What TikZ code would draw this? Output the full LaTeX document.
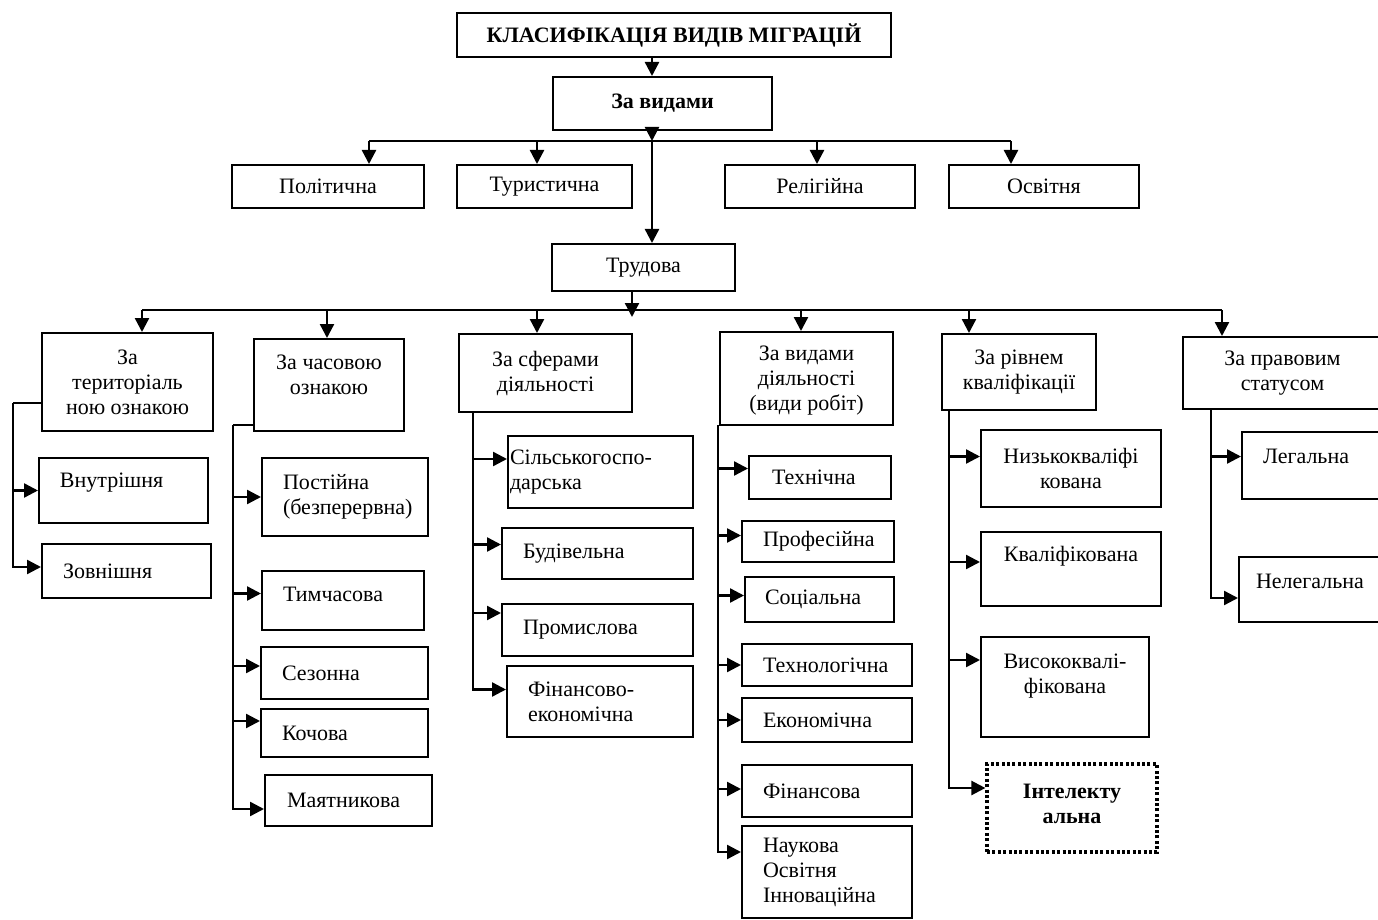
\documentclass[tikz,border=0pt]{standalone}
\usepackage{fontspec}
\setmainfont{Liberation Serif}
\usetikzlibrary{arrows.meta}
\tikzset{
  >={Triangle[length=7pt,width=7pt]},
  box/.style={draw, line width=1pt, inner sep=0pt, align=center,
    font=\fontsize{11}{12.5}\selectfont},
  bbox/.style={box, font=\fontsize{11}{12.5}\selectfont\bfseries},
  dotbox/.style={bbox, line width=1.6pt, dash pattern=on 1.5pt off 1.2pt},
  spot/.style args={#1,#2,#3,#4}{at={({(#1+#3)/2},{(#2+#4)/2})},
    minimum width={(#3-#1)*0.5pt}, minimum height={(#4-#2)*0.5pt}},
  lft/.style={align=left, text width=#1},
  liftby/.style={text depth=#1},
  conn/.style={line width=1.2pt},
}

\begin{document}
\begin{tikzpicture}[x=0.5pt, y=-0.5pt]
  \useasboundingbox (0,0) rectangle (1378,920);

  % top
  \node[bbox, spot={457,13,891,57}] (title) {КЛАСИФІКАЦІЯ ВИДІВ МІГРАЦІЙ};
  \node[bbox, spot={553,77,772,130}] (vydy) {За видами};
  \node[box, spot={232,165,424,208}] (pol) {Політична};
  \node[box, spot={457,165,632,208}] (tur) {Туристична};
  \node[box, spot={725,165,915,208}] (rel) {Релігійна};
  \node[box, spot={949,165,1139,208}] (osv) {Освітня};
  \node[box, spot={552,244,735,291}] (trud) {Трудова};

  % criteria
  \node[box, spot={42,333,213,431}] (ter) {За\\територіаль\\ною ознакою};
  \node[box, liftby=10pt, spot={254,339,404,431}] (chas) {За часовою\\ознакою};
  \node[box, spot={459,334,632,412}] (sfer) {За сферами\\діяльності};
  \node[box, liftby=0pt, spot={720,332,893,425}] (vyd) {За видами\\діяльності\\(види робіт)};
  \node[box, spot={942,334,1096,410}] (riv) {За рівнем\\кваліфікації};
  \node[box, spot={1183,337,1382,409}] (prav) {За правовим\\статусом};

  % territorial, time
  \node[box, lft=63.5pt, liftby=10pt, spot={39,458,208,523}] (vnu) {Внутрішня};
  \node[box, lft=63.5pt, spot={42,544,211,598}] (zov) {Зовнішня};
  \node[box, lft=62pt, spot={262,458,428,536}] (post) {Постійна\\(безперервна)};
  \node[box, lft=60pt, liftby=6pt, spot={262,571,424,630}] (tymch) {Тимчасова};
  \node[box, lft=62.5pt, spot={261,647,428,699}] (sez) {Сезонна};
  \node[box, lft=62.5pt, spot={261,709,428,757}] (koch) {Кочова};
  \node[box, lft=61.5pt, spot={265,775,432,826}] (maya) {Маятникова};

  % spheres
  \node[box, lft=90.5pt, spot={508,436,693,508}] (silg) {Сільськогоспо-\\дарська};
  \node[box, lft=74.5pt, spot={502,528,693,579}] (bud) {Будівельна};
  \node[box, lft=74.5pt, spot={502,604,693,656}] (prom) {Промислова};
  \node[box, lft=72pt, spot={507,666,693,737}] (fin) {Фінансово-\\економічна};

  % kinds of work
  \node[box, lft=48pt, spot={749,456,891,499}] (tekh) {Технічна};
  \node[box, lft=55pt, spot={742,521,894,562}] (prof) {Професійна};
  \node[box, lft=54.5pt, spot={745,577,894,622}] (soc) {Соціальна};
  \node[box, lft=64pt, spot={742,644,912,686}] (tekhn) {Технологічна};
  \node[box, lft=64pt, spot={742,698,912,742}] (ekon) {Економічна};
  \node[box, lft=64pt, spot={742,765,912,817}] (finn) {Фінансова};
  \node[box, lft=64pt, spot={742,826,912,918}] (nauk) {Наукова\\Освітня\\Інноваційна};

  % qualification, legal status
  \node[box, spot={981,430,1161,507}] (nyz) {Низькокваліфі\\кована};
  \node[box, liftby=15pt, spot={981,532,1161,606}] (kval) {Кваліфікована};
  \node[box, liftby=13pt, spot={981,637,1149,737}] (vys) {Висококвалі-\\фікована};
  \node[dotbox, liftby=4pt, spot={987,764,1157,852}] (intel) {Інтелекту\\альна};
  \node[box, lft=49pt, liftby=9pt, spot={1242,432,1382,499}] (leg) {Легальна};
  \node[box, lft=54.5pt, liftby=8pt, spot={1239,557,1382,622}] (neleg) {Нелегальна};

  % first level links
  \coordinate (trunk) at (652,141);
  \foreach \x/\n in {369/b1, 537/b2, 817/b3, 1011/b4}
    \coordinate (\n) at (\x,141);
  \draw[conn,->] (title.south -| trunk) -- (vydy.north -| trunk);
  \draw[conn,->] (vydy.south -| trunk) -- (trunk);
  \draw[conn,->] (trunk) -- (trud.north -| trunk);
  \draw[conn] (b1) -- (b4);
  \foreach \c/\n in {b1/pol, b2/tur, b3/rel, b4/osv}
    \draw[conn,->] (\c) -- (\c |- \n.north);

  % second level links
  \coordinate (t2) at (632,317);
  \foreach \x/\n in {142/d1, 327/d2, 537/d3, 801/d4, 969/d5, 1222/d6}
    \coordinate (\n) at (\x,310);
  \draw[conn,->] (trud.south -| t2) -- (t2);
  \draw[conn] (d1) -- (d6);
  \foreach \c/\n in {d1/ter, d2/chas, d3/sfer, d4/vyd, d5/riv, d6/prav}
    \draw[conn,->] (\c) -- (\c |- \n.north);

  % spines
  \coordinate (s1) at (13,403);
  \coordinate (s2) at (233,425);
  \coordinate (s3) at (473,412);
  \coordinate (s4) at (718,425);
  \coordinate (s5) at (949,410);
  \coordinate (s6) at (1211,409);
  \draw[conn] (ter.west |- s1) -- (s1);
  \draw[conn] (chas.west |- s2) -- (s2);
  \foreach \n/\s in {vnu/0, zov/2}
    \draw[conn,<-] ([yshift=\s pt]\n.west) -| (s1);
  \foreach \n/\s in {post/0, tymch/3.5, sez/3.5, koch/6, maya/-4.25}
    \draw[conn,<-] ([yshift=\s pt]\n.west) -| (s2);
  \foreach \n/\s in {silg/6.5, bud/4.5, prom/8.5, fin/6}
    \draw[conn,<-] ([yshift=\s pt]\n.west) -| (s3);
  \foreach \n/\s in {tekh/4.5, prof/3, soc/2, tekhn/0, ekon/0, finn/1, nauk/10}
    \draw[conn,<-] ([yshift=\s pt]\n.west) -| (s4);
  \foreach \n/\s in {nyz/6, kval/3.5, vys/13.5, intel/10}
    \draw[conn,<-] ([yshift=\s pt]\n.west) -| (s5);
  \foreach \n/\s in {leg/4.5, neleg/-4.25}
    \draw[conn,<-] ([yshift=\s pt]\n.west) -| (s6);
\end{tikzpicture}
\end{document}
